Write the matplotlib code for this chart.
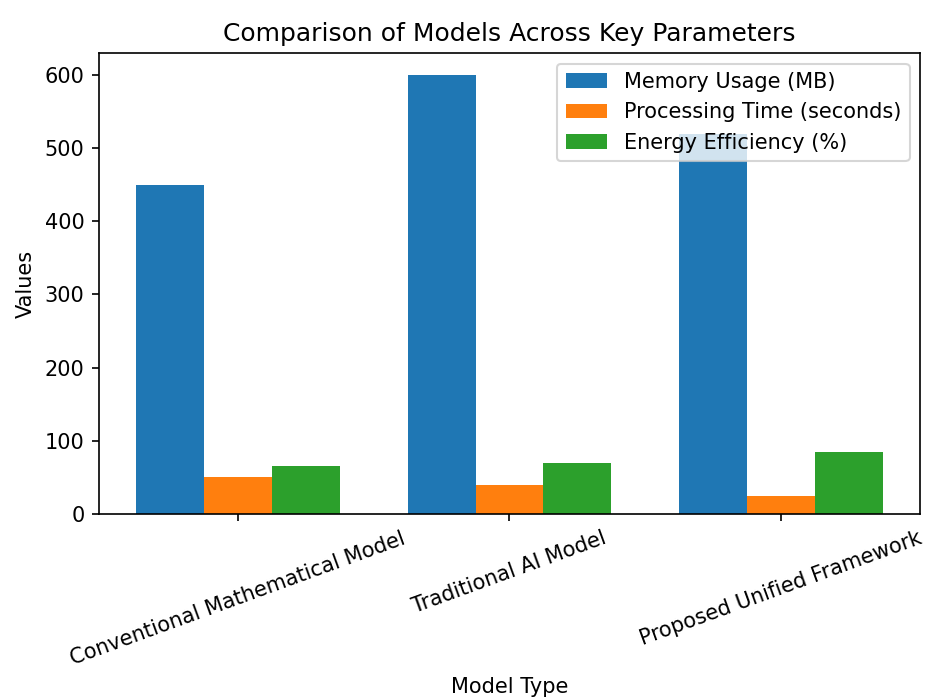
import matplotlib
matplotlib.use("Agg")
import matplotlib.pyplot as plt
import numpy as np

models = ["Conventional Mathematical Model", "Traditional AI Model", "Proposed Unified Framework"]
memory_mb = [450, 600, 520]
processing_s = [50, 40, 25]
energy_pct = [65, 70, 85]

x = np.arange(len(models))
w = 0.25

fig, ax = plt.subplots(figsize=(925 / 150, 700 / 150), dpi=150)
ax.bar(x - w, memory_mb, w, label="Memory Usage (MB)")
ax.bar(x, processing_s, w, label="Processing Time (seconds)")
ax.bar(x + w, energy_pct, w, label="Energy Efficiency (%)")

ax.set_xticks(x)
ax.set_xticklabels(models, rotation=20)
ax.set_xlabel("Model Type")
ax.set_ylabel("Values")
ax.set_title("Comparison of Models Across Key Parameters")
ax.legend(loc="upper right")

fig.subplots_adjust(left=0.107, right=0.9946, top=0.924, bottom=0.266)
fig.savefig("out.png")
